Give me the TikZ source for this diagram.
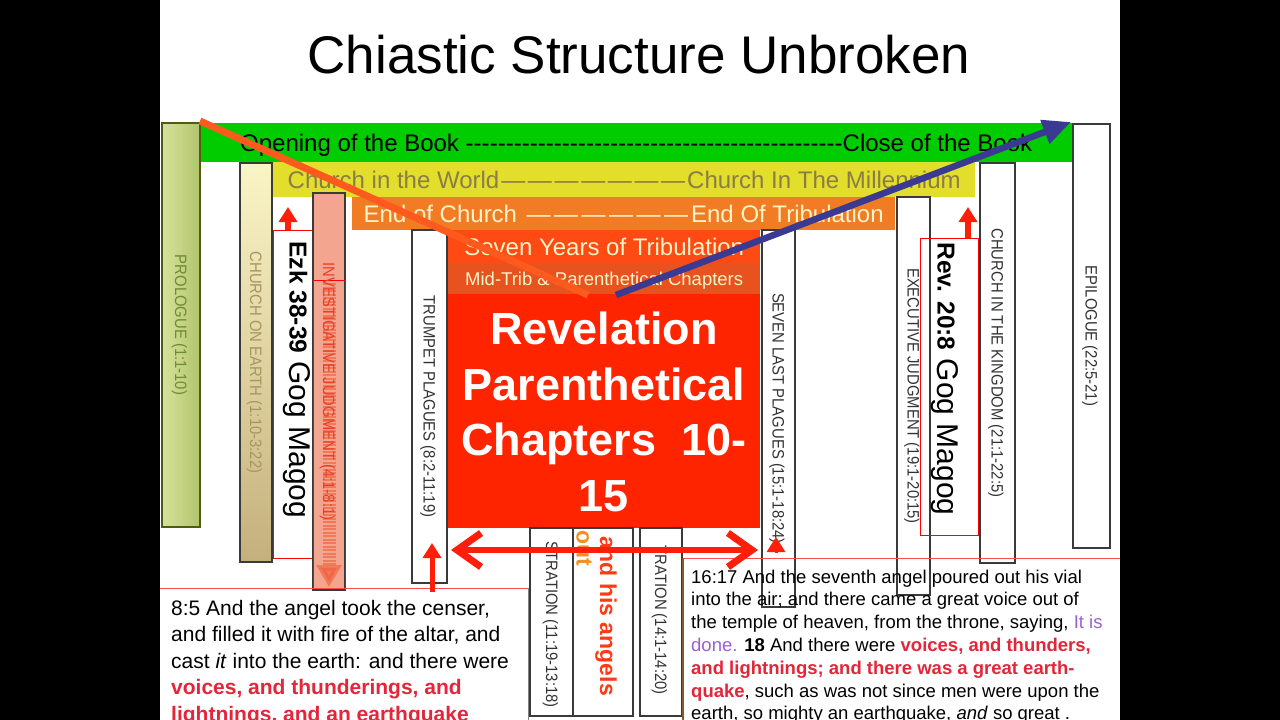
\documentclass[tikz,border=0pt]{standalone}
\usepackage{fontspec}
\setmainfont{Liberation Sans}
\newfontfamily\colfont[FakeStretch=0.9]{Liberation Sans}
\usepackage{xcolor}
\usetikzlibrary{arrows.meta}

\definecolor{bandgreen}{HTML}{00CC00}
\definecolor{bandyellow}{HTML}{E3DD2B}
\definecolor{yellowtext}{HTML}{8A7D45}
\definecolor{bandorange}{HTML}{F27C24}
\definecolor{creamtext}{HTML}{FFF3C8}
\definecolor{bandtrib}{HTML}{FF4A14}
\definecolor{bandmid}{HTML}{E8521E}
\definecolor{boxred}{HTML}{FF2400}
\definecolor{diagorange}{HTML}{FF5A1E}
\definecolor{diagblue}{HTML}{3A3A92}
\definecolor{salmon}{HTML}{F3A58F}
\definecolor{arrowred}{HTML}{FF1E0A}
\definecolor{versered}{HTML}{E3263A}
\definecolor{doneviolet}{HTML}{9A60D2}
\definecolor{colline}{HTML}{3A3A3A}
\definecolor{coltext}{HTML}{333333}
\definecolor{prolotext}{HTML}{6F8C2F}
\definecolor{proloedge}{HTML}{4E5C16}
\definecolor{prololight}{HTML}{D6E29C}
\definecolor{prolodark}{HTML}{B2C46C}
\definecolor{earthlight}{HTML}{FAF5C6}
\definecolor{earthdark}{HTML}{C4B07C}
\definecolor{earthtext}{HTML}{A69660}
\definecolor{angelred}{HTML}{FF3A14}
\definecolor{outorange}{HTML}{F39020}
\definecolor{invtext}{HTML}{E8402A}
\definecolor{invarrow}{HTML}{F25A38}

\begin{document}
\begin{tikzpicture}[x=1pt, y=-1pt,
  band/.style={rectangle, anchor=north west, inner sep=0pt, text height=17.3pt, text depth=0pt},
  column/.style={rectangle, rotate=-90, draw=colline, line width=1.3pt, fill=white, inner sep=0pt,
    text height=11.8pt, text depth=0pt, text=coltext, font=\colfont\fontsize{16.5}{18}\selectfont},
  coltag/.style={rotate=-90, inner sep=0pt, text height=11.8pt, text depth=0pt, text=coltext, font=\colfont\fontsize{16.5}{18}\selectfont},
  gogbox/.style={rectangle, draw=red, line width=0.9pt, inner sep=0pt},
  gogtext/.style={rotate=-90, inner sep=0pt, font=\fontsize{30}{32}\selectfont},
  uparrow/.style={-{Triangle[length=15pt,width=18pt]}, line width=6pt, arrowred},
  verse/.style={anchor=north west, align=left, inner sep=0pt},
]
\useasboundingbox (0,0) rectangle (1280,720);
\fill[black] (0,0) rectangle (1280,720);
\fill[white] (160,0) rectangle (1120,720);
\begin{scope}
\clip (160,0) rectangle (1120,720);

\node[font=\fontsize{53}{60}\selectfont, inner sep=0pt] (title) at (639,55) {Chiastic Structure Unbroken};

% nested bands
\node[band, fill=bandgreen, minimum width=872, minimum height=39, font=\fontsize{24}{27}\selectfont] (opening) at (200,123)
  {\makebox[792pt]{Opening of the Book \xleaders\hbox{-}\hfill Close of the Book}};
\node[band, fill=bandyellow, minimum width=702, minimum height=35, text=yellowtext, font=\fontsize{24}{27}\selectfont] (world) at (273,162)
  {\makebox[673pt]{Church in the World\xleaders\hbox{\kern0.6pt—\kern0.6pt}\hfill Church In The Millennium}};
\node[band, fill=bandorange, minimum width=543, minimum height=33, text=creamtext, font=\fontsize{24}{27}\selectfont] (endchurch) at (352,197)
  {\makebox[520pt]{End of Church \xleaders\hbox{\kern0.6pt—\kern0.6pt}\hfill End Of Tribulation}};
\node[band, fill=bandtrib, minimum width=312, minimum height=33, text=creamtext, font=\fontsize{24}{27}\selectfont] (sevenyears) at (448,230)
  {Seven Years of Tribulation};
\node[band, fill=bandmid, minimum width=312, minimum height=31, text=creamtext, text height=13.3pt, font=\fontsize{18.5}{21}\selectfont] (midtrib) at (448,263)
  {Mid-Trib \& Parenthetical Chapters};
\node[band, fill=boxred, minimum width=312, minimum height=234] (redbox) at (448,294) {};
\node[align=center, inner sep=0pt, text=white, font=\bfseries\fontsize{45}{55.7}\selectfont] (parenthetical) at (604,412)
  {Revelation\\Parenthetical\\Chapters\ \ 10-\\15};

% book columns
\node[column, minimum width=404, minimum height=38, draw=proloedge, line width=2pt, text=prolotext,
  left color=prololight, right color=prolodark] (prologue) at (181,325) {PROLOGUE (1:1-10)};
\node[column, minimum width=399, minimum height=32, text=earthtext,
  top color=earthlight, bottom color=earthdark] (churchearth) at (256,362.5) {CHURCH ON EARTH (1:10-3:22)};
\node[gogbox, minimum width=59, minimum height=328] (ezkbox) at (302.5,394) {};
\node[column, minimum width=397, minimum height=32, fill=salmon] (investigative) at (329,391.5) {};
\draw[red, line width=0.8pt] (313,280) rectangle (345,588);
\coordinate (invtop) at (329,283);
\coordinate (invtip) at (329,587);
\draw[line width=13pt, invarrow, opacity=0.6, dash pattern=on 2pt off 1.5pt, -{Triangle[length=22pt,width=24pt]}] (invtop) -- (invtip);
\node[coltag, text=invtext] (investigativetag) at (investigative.center) {INVESTIGATIVE JUDGMENT (4:1-8:1)};
\node[column, minimum width=353, minimum height=35] (trumpet) at (429.5,406.5) {TRUMPET PLAGUES (8:2-11:19)};
\node[column, minimum width=377, minimum height=33] (sevenlast) at (778.5,418.5) {SEVEN LAST PLAGUES (15:1-18:24)};
\node[column, minimum width=398, minimum height=33] (executive) at (913.5,396) {EXECUTIVE JUDGMENT (19:1-20:15)};
\node[gogbox, minimum width=58, minimum height=297] (revbox) at (949,386.5) {};
\node[column, minimum width=400, minimum height=35] (kingdom) at (997.5,363) {CHURCH IN THE KINGDOM (21:1-22:5)};
\node[column, minimum width=424, minimum height=37] (epilogue) at (1091.5,336) {EPILOGUE (22:5-21)};

% columns under the red box
\node[column, minimum width=188, minimum height=43] (wrathone) at (551.5,622) {};
\node[column, minimum width=188, minimum height=60, fill=none] (angelcol) at (603,622) {};
\node[column, minimum width=188, minimum height=42] (wrathtwo) at (661,622) {};
\node[coltag, anchor=east] (wrathonetag) at (552,708) {STRATION (11:19-13:18)};
\node[coltag, anchor=east] (wrathtwotag) at (661,695) {TRATION (14:1-14:20)};
\node[rotate=-90, anchor=east, inner sep=0pt, text=angelred, font=\bfseries\fontsize{23}{25}\selectfont] (angels) at (606,696) {and his angels};
\node[rotate=-90, anchor=west, inner sep=0pt, text=outorange, font=\bfseries\fontsize{23}{25}\selectfont] (castout) at (584,530) {out};

% Gog and Magog labels
\node[gogtext] (ezk) at (297,380) {{\bfseries\fontsize{24.5}{26}\selectfont Ezk 38-39} Gog Magog};
\node[gogtext] (rev) at (945,379) {{\bfseries\fontsize{24.5}{26}\selectfont Rev. 20:8} Gog Magog};

% verse boxes
\draw[red!70, line width=0.8pt] (160,588) -- (528,588);
\draw[gray, line width=1pt] (528,588) -- (528,720);
\draw[red!70, line width=0.8pt] (683,558) -- (1120,558);
\draw[brown!70!black, line width=1.5pt] (683,558) -- (683,720);
\node[verse, font=\fontsize{21}{26.5}\selectfont] (censer) at (171,600)
  {8:5 And the angel took the censer,\\
   and filled it with fire of the altar, and\\
   cast \textit{it} into the earth: and there were\\
   \textcolor{versered}{\bfseries voices, and thunderings, and}\\
   \textcolor{versered}{\bfseries lightnings, and an earthquake}};
\node[verse, font=\fontsize{18.5}{22.8}\selectfont] (vial) at (691,569.5)
  {16:17 And the seventh angel poured out his vial\\
   into the air; and there came a great voice out of\\
   the temple of heaven, from the throne, saying, \textcolor{doneviolet}{It is}\\
   \textcolor{doneviolet}{done.} \textbf{18} And there were \textcolor{versered}{\bfseries voices, and thunders,}\\
   \textcolor{versered}{\bfseries and lightnings; and there was a great earth-}\\
   \textcolor{versered}{\bfseries quake}, such as was not since men were upon the\\
   earth, so mighty an earthquake, \textit{and} so great .};

% arrows
\coordinate (ezktip) at (288,207);
\draw[uparrow] (ezkbox.north -| ezktip) -- (ezktip);
\coordinate (revtip) at (968,207);
\draw[uparrow] (revbox.north -| revtip) -- (revtip);
\coordinate (trumpetfoot) at (432,592);
\coordinate (trumpettip) at (432,543);
\draw[uparrow, line width=5pt] (trumpetfoot) -- (trumpettip);
\coordinate (lastfoot) at (776,553);
\coordinate (lasttip) at (776,537);
\draw[uparrow, line width=3pt] (lastfoot) -- (lasttip);
\coordinate (parenleft) at (451,550);
\coordinate (parenright) at (758,550);
\draw[arrowred, line width=6pt, {Straight Barb[length=24pt,width=34pt,line width=7pt]}-{Straight Barb[length=24pt,width=34pt,line width=7pt]}] (parenleft) -- (parenright);

% the chiasm
\coordinate (bookopen) at (200,121);
\coordinate (turnleft) at (588,295);
\coordinate (turnright) at (616,295);
\coordinate (bookclose) at (1071,122);
\draw[diagorange, line width=7pt] (bookopen) -- (turnleft);
\draw[diagblue, line width=6.5pt, -{Triangle[length=28pt,width=24pt]}] (turnright) -- (bookclose);
\end{scope}
\end{tikzpicture}
\end{document}
